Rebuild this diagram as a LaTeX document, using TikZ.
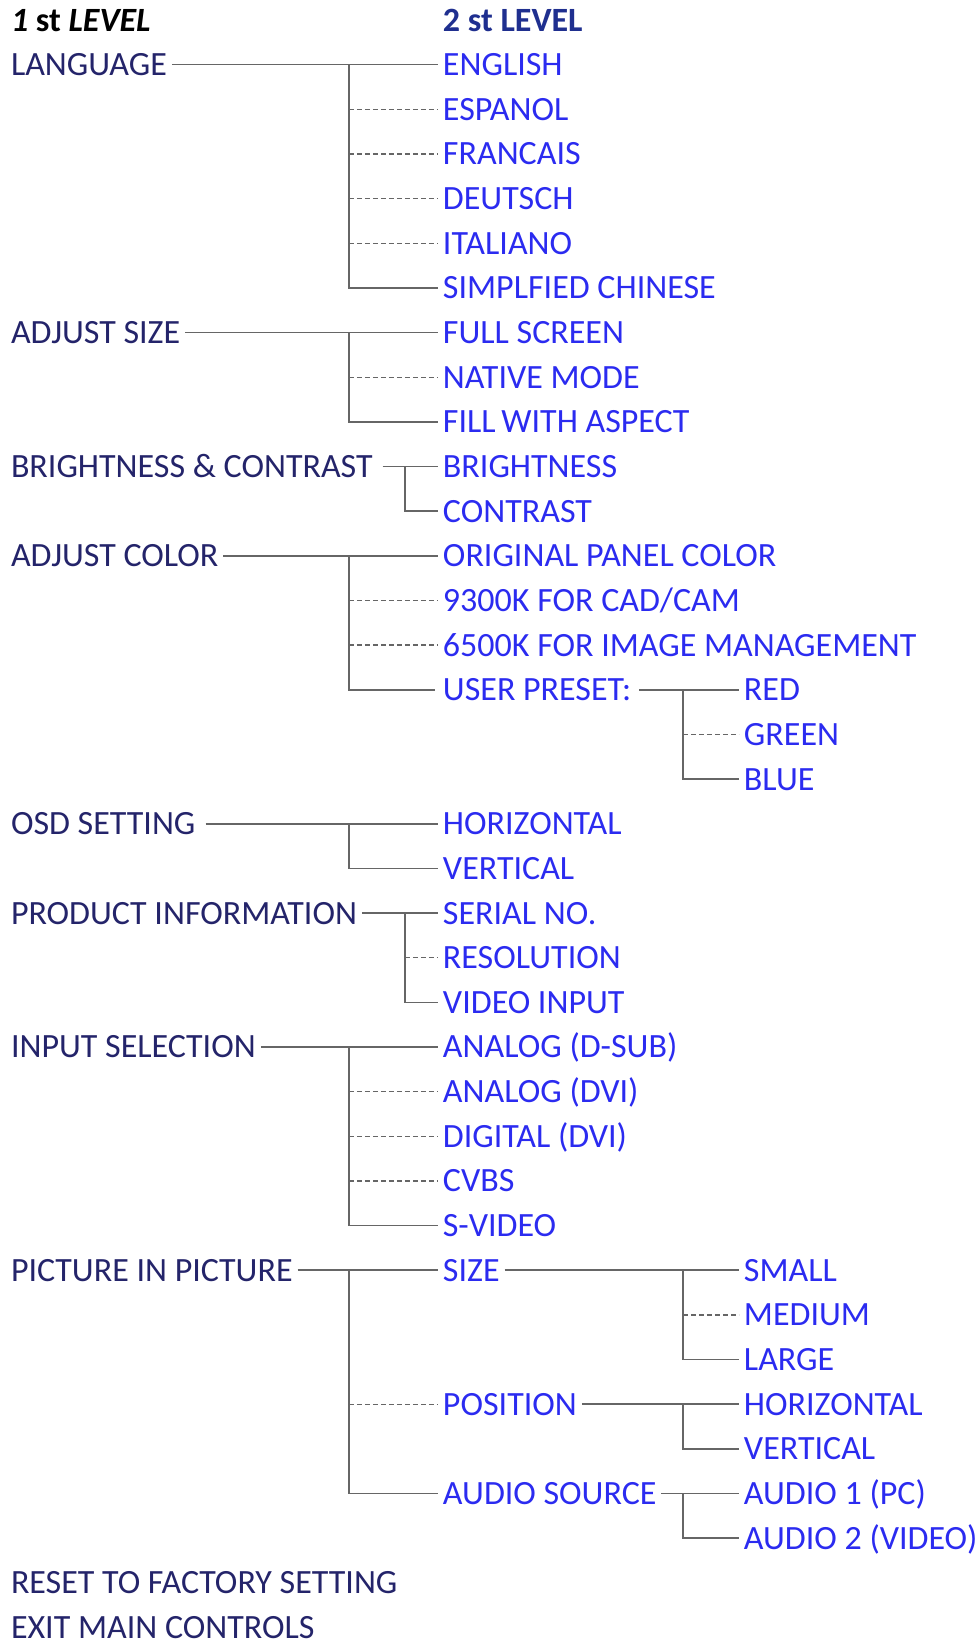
\documentclass[tikz,border=0pt]{standalone}
\usepackage{fontspec}
\setmainfont{Carlito}
\definecolor{menunavy}{HTML}{24246A}
\definecolor{menublue}{HTML}{2B2BF0}
\definecolor{menuhead}{HTML}{1F2F8F}
\definecolor{menuline}{HTML}{666666}
\newcommand\menufont{\fontsize{17}{20}\selectfont}
\begin{document}
\begin{tikzpicture}[x=0.5pt,y=-22.325pt,font=\menufont,
  menuitem/.style={anchor=west,inner sep=0pt,outer sep=2.5pt,text height=11pt,text depth=0pt},
  firstlvl/.style={menuitem,text=menunavy},
  secondlvl/.style={menuitem,text=menublue},
  solidlink/.style={draw=menuline,line width=0.8pt},
  dashlink/.style={draw=menuline,line width=0.65pt,dash pattern=on 2.4pt off 1.6pt}]
% one row = 44.65px, x in px
\useasboundingbox (0,-0.448) rectangle (980,36.417);
\node[menuitem,font=\menufont\bfseries] (headone) at (6,0) {\textit{1} st \textit{LEVEL}};
\node[menuitem,font=\menufont\bfseries,text=menuhead] (headtwo) at (438,0) {2 st LEVEL};
%
\node[firstlvl] (language) at (6,1) {LANGUAGE};
\node[secondlvl] (english) at (438,1) {ENGLISH};
\node[secondlvl] (espanol) at (438,2) {ESPANOL};
\node[secondlvl] (francais) at (438,3) {FRANCAIS};
\node[secondlvl] (deutsch) at (438,4) {DEUTSCH};
\node[secondlvl] (italiano) at (438,5) {ITALIANO};
\node[secondlvl] (chinese) at (438,6) {SIMPLFIED CHINESE};
\coordinate (langfork) at (349,1);
\draw[solidlink] (language.east) -- (english.west);
\draw[solidlink] (langfork) |- (chinese.west);
\draw[dashlink] (langfork |- espanol.west) -- (espanol.west);
\draw[dashlink] (langfork |- francais.west) -- (francais.west);
\draw[dashlink] (langfork |- deutsch.west) -- (deutsch.west);
\draw[dashlink] (langfork |- italiano.west) -- (italiano.west);
%
\node[firstlvl] (adjsize) at (6,7) {ADJUST SIZE};
\node[secondlvl] (fullscreen) at (438,7) {FULL SCREEN};
\node[secondlvl] (native) at (438,8) {NATIVE MODE};
\node[secondlvl] (fillaspect) at (438,9) {FILL\,WITH ASPECT};
\coordinate (sizefork) at (349,7);
\draw[solidlink] (adjsize.east) -- (fullscreen.west);
\draw[solidlink] (sizefork) |- (fillaspect.west);
\draw[dashlink] (sizefork |- native.west) -- (native.west);
%
\node[firstlvl,outer xsep=5pt] (brightcon) at (1,10) {BRIGHTNESS \& CONTRAST};
\node[secondlvl] (brightness) at (438,10) {BRIGHTNESS};
\node[secondlvl] (contrast) at (438,11) {CONTRAST};
\coordinate (brightfork) at (405,10);
\draw[solidlink] (brightcon.east) -- (brightness.west);
\draw[solidlink] (brightfork) |- (contrast.west);
%
\node[firstlvl] (adjcolor) at (6,12) {ADJUST COLOR};
\node[secondlvl] (original) at (438,12) {ORIGINAL PANEL COLOR};
\node[secondlvl] (ninethree) at (438,13) {9300K FOR CAD/CAM};
\node[secondlvl] (sixfive) at (438,14) {6500K FOR IMAGE MANAGEMENT};
\node[secondlvl,outer xsep=4pt] (userpreset) at (435,15) {USER PRESET:};
\node[secondlvl] (red) at (739,15) {RED};
\node[secondlvl] (green) at (739,16) {GREEN};
\node[secondlvl] (blue) at (739,17) {BLUE};
\coordinate (colorfork) at (349,12);
\coordinate (presetfork) at (683,15);
\draw[solidlink] (adjcolor.east) -- (original.west);
\draw[solidlink] (colorfork) |- (userpreset.west);
\draw[dashlink] (colorfork |- ninethree.west) -- (ninethree.west);
\draw[dashlink] (colorfork |- sixfive.west) -- (sixfive.west);
\draw[solidlink] (userpreset.east) -- (red.west);
\draw[solidlink] (presetfork) |- (blue.west);
\draw[dashlink] (presetfork |- green.west) -- (green.west);
%
\node[firstlvl,outer xsep=5pt] (osd) at (1,18) {OSD SETTING};
\node[secondlvl] (osdhoriz) at (438,18) {HORIZONTAL};
\node[secondlvl] (osdvert) at (438,19) {VERTICAL};
\coordinate (osdfork) at (349,18);
\draw[solidlink] (osd.east) -- (osdhoriz.west);
\draw[solidlink] (osdfork) |- (osdvert.west);
%
\node[firstlvl] (prodinfo) at (6,20) {PRODUCT INFORMATION};
\node[secondlvl] (serial) at (438,20) {SERIAL NO.};
\node[secondlvl] (resolution) at (438,21) {RESOLUTION};
\node[secondlvl] (videoin) at (438,22) {VIDEO INPUT};
\coordinate (prodfork) at (405,20);
\draw[solidlink] (prodinfo.east) -- (serial.west);
\draw[solidlink] (prodfork) |- (videoin.west);
\draw[dashlink] (prodfork |- resolution.west) -- (resolution.west);
%
\node[firstlvl] (inputsel) at (6,23) {INPUT SELECTION};
\node[secondlvl] (dsub) at (438,23) {ANALOG (D-SUB)};
\node[secondlvl] (analogdvi) at (438,24) {ANALOG (DVI)};
\node[secondlvl] (digitaldvi) at (438,25) {DIGITAL (DVI)};
\node[secondlvl] (cvbs) at (438,26) {CVBS};
\node[secondlvl] (svideo) at (438,27) {S-VIDEO};
\coordinate (inputfork) at (349,23);
\draw[solidlink] (inputsel.east) -- (dsub.west);
\draw[solidlink] (inputfork) |- (svideo.west);
\draw[dashlink] (inputfork |- analogdvi.west) -- (analogdvi.west);
\draw[dashlink] (inputfork |- digitaldvi.west) -- (digitaldvi.west);
\draw[dashlink] (inputfork |- cvbs.west) -- (cvbs.west);
%
\node[firstlvl] (pip) at (6,28) {PICTURE IN PICTURE};
\node[secondlvl] (pipsize) at (438,28) {SIZE};
\node[secondlvl] (small) at (739,28) {SMALL};
\node[secondlvl] (medium) at (739,29) {MEDIUM};
\node[secondlvl] (large) at (739,30) {LARGE};
\node[secondlvl] (position) at (438,31) {POSITION};
\node[secondlvl] (pophoriz) at (739,31) {HORIZONTAL};
\node[secondlvl] (popvert) at (739,32) {VERTICAL};
\node[secondlvl] (audiosrc) at (438,33) {AUDIO SOURCE};
\node[secondlvl] (audioone) at (739,33) {AUDIO 1 (PC)};
\node[secondlvl] (audiotwo) at (739,34) {AUDIO 2 (VIDEO)};
\coordinate (pipfork) at (349,28);
\coordinate (pipsizefork) at (683,28);
\coordinate (posfork) at (683,31);
\coordinate (audiofork) at (683,33);
\draw[solidlink] (pip.east) -- (pipsize.west);
\draw[solidlink] (pipfork) |- (audiosrc.west);
\draw[dashlink] (pipfork |- position.west) -- (position.west);
\draw[solidlink] (pipsize.east) -- (small.west);
\draw[solidlink] (pipsizefork) |- (large.west);
\draw[dashlink] (pipsizefork |- medium.west) -- (medium.west);
\draw[solidlink] (position.east) -- (pophoriz.west);
\draw[solidlink] (posfork) |- (popvert.west);
\draw[solidlink] (audiosrc.east) -- (audioone.west);
\draw[solidlink] (audiofork) |- (audiotwo.west);
%
\node[firstlvl] (reset) at (6,35) {RESET TO FACTORY SETTING};
\node[firstlvl] (exitmain) at (6,36) {EXIT MAIN CONTROLS};
\end{tikzpicture}
\end{document}
